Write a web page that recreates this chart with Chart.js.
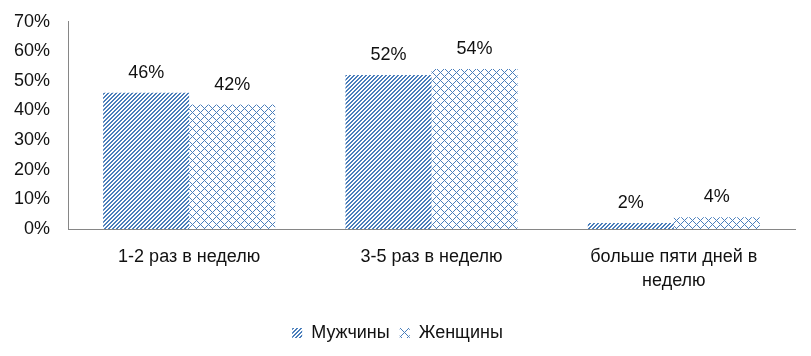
<!DOCTYPE html>
<html><head><meta charset="utf-8">
<script src="https://cdn.jsdelivr.net/npm/chart.js@4/dist/chart.umd.min.js"></script>
<style>html,body{margin:0;padding:0;background:#fff}#wrap{width:811px;height:356px}</style>
</head><body><div id="wrap"><canvas id="c"></canvas></div>
<script>
const categories = ["1-2 раз в неделю", "3-5 раз в неделю", ["больше пяти дней в", "неделю"]];
const seriesNames = ["Мужчины", "Женщины"];
const men = [46, 52, 2];
const women = [42, 54, 4];
const yTicks = [0, 10, 20, 30, 40, 50, 60, 70];

const BLUE = '#4a7ebb';
function stripePattern(){
  const c = document.createElement('canvas'); c.width = 4; c.height = 4;
  const g = c.getContext('2d'); g.fillStyle = '#fff'; g.fillRect(0,0,4,4);
  g.fillStyle = BLUE;
  for (let x=0;x<4;x++) for (let y=0;y<4;y++){ const m=(x+y)%4; if (m===0||m===1) g.fillRect(x,y,1,1); }
  return g.createPattern(c,'repeat');
}
function crossPattern(){
  const n=8; const c = document.createElement('canvas'); c.width = n; c.height = n;
  const g = c.getContext('2d'); g.fillStyle = '#fff'; g.fillRect(0,0,n,n);
  g.fillStyle = BLUE;
  for (let x=0;x<n;x++) for (let y=0;y<n;y++){ if ((x+y)%n===0 || ((x-y)%n+n)%n===0) g.fillRect(x,y,1,1); }
  return g.createPattern(c,'repeat');
}
const FONT = "'Liberation Sans', Arial, sans-serif";
const FS = 18;
const labelPlugin = {
  id:'vals',
  afterDatasetsDraw(chart){
    const ctx = chart.ctx; ctx.save();
    ctx.font = FS + 'px ' + FONT; ctx.fillStyle = '#111'; ctx.textAlign='center'; ctx.textBaseline='middle';
    chart.data.datasets.forEach((ds,i)=>{
      chart.getDatasetMeta(i).data.forEach((bar,j)=>{
        ctx.fillText(ds.data[j] + '%', bar.x, bar.y - 20);
      });
    });
    ctx.restore();
  }
};
new Chart(document.getElementById('c'), {
  type:'bar',
  data:{ labels: categories, datasets:[
    {label: seriesNames[0], data: men, backgroundColor: stripePattern(), borderWidth:0},
    {label: seriesNames[1], data: women, backgroundColor: crossPattern(), borderWidth:0}
  ]},
  options:{
    responsive:true, maintainAspectRatio:false, animation:false,
    layout:{padding:{top:5, right:16, bottom:4, left:0}},
    datasets:{bar:{barPercentage:1, categoryPercentage:0.71}},
    plugins:{
      legend:{position:'bottom', labels:{boxWidth:10, boxHeight:10, padding:10, color:'#111', font:{family:FONT, size:FS}}},
      tooltip:{enabled:false}
    },
    scales:{
      x:{
        grid:{display:false, drawTicks:false},
        border:{color:'#868686', width:1},
        ticks:{color:'#111', font:{family:FONT, size:FS, lineHeight:1.33}, padding:16, maxRotation:0, autoSkip:false},
        afterFit(s){ s.height = 85; }
      },
      y:{
        min:0, max:70,
        afterBuildTicks(s){ s.ticks = yTicks.map(v=>({value:v})); },
        grid:{display:false, drawTicks:false},
        border:{color:'#868686', width:1},
        ticks:{color:'#111', font:{family:FONT, size:FS, lineHeight:0.4}, padding:18, callback:v=>v+'%'},
        afterFit(s){ s.width = 68; }
      }
    }
  },
  plugins:[labelPlugin]
});
</script></body></html>
